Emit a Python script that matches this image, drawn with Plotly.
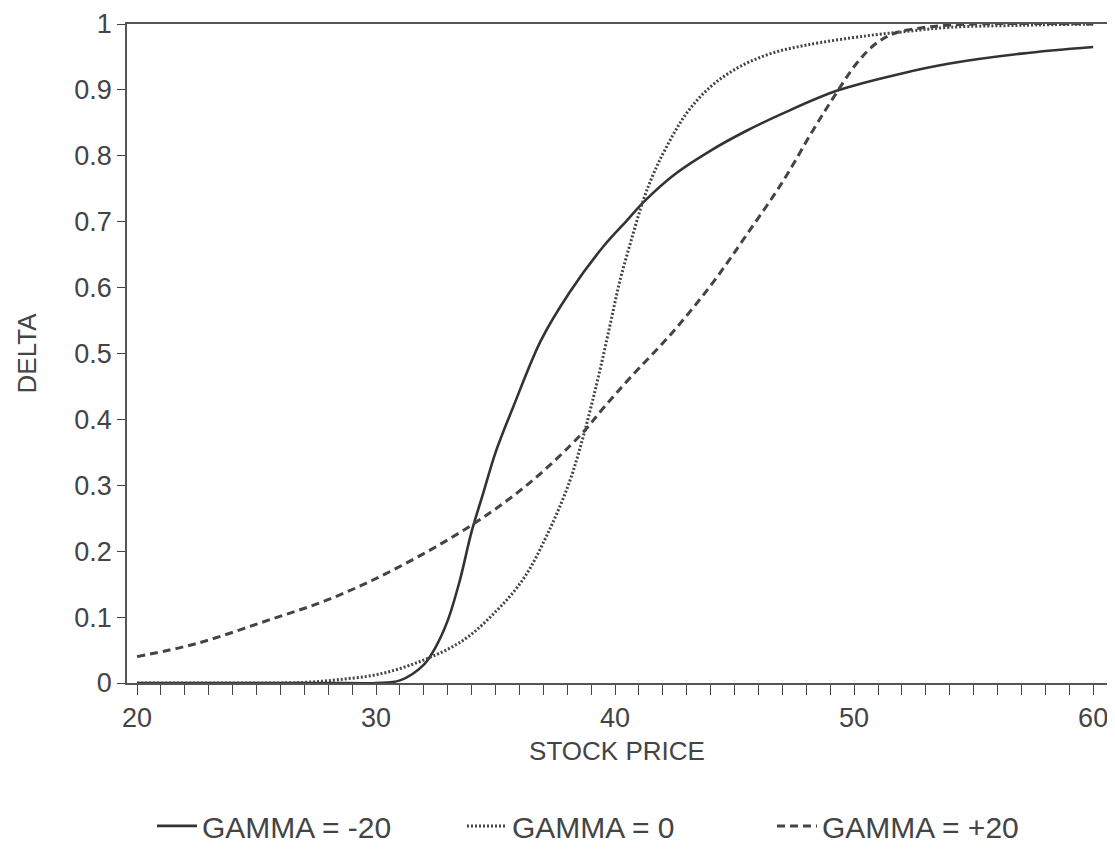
import plotly.graph_objects as go

# stock price (x) and delta (y)
price_neg20 = [20, 22, 24, 26, 28, 30, 31, 32, 32.5, 33, 33.5, 34, 34.5, 35, 35.75,
               36.9, 38.1, 39.5, 40.5, 41.2, 42.5, 44.0, 45.5, 47.0, 49.3, 52, 54, 57, 60]
delta_neg20 = [0, 0, 0, 0, 0, 0, 0.004, 0.028, 0.055, 0.095, 0.155, 0.23, 0.29, 0.35, 0.42,
               0.52, 0.593, 0.662, 0.702, 0.73, 0.772, 0.808, 0.838, 0.864, 0.899, 0.925, 0.94, 0.955, 0.965]

price_zero = [20, 24, 27, 28.4, 30.2, 32, 33.65, 35.05, 36.2, 37.3, 38.1, 38.6, 39.0, 39.4,
              39.8, 40.2, 40.7, 41.2, 41.6, 42.1, 43.0, 44.0, 45.2, 46.5, 48, 50.5, 52, 54, 57, 60]
delta_zero = [0, 0, 0.001, 0.005, 0.014, 0.035, 0.065, 0.11, 0.16, 0.236, 0.306, 0.365, 0.42, 0.48,
              0.545, 0.61, 0.675, 0.735, 0.772, 0.81, 0.865, 0.905, 0.935, 0.955, 0.968, 0.982, 0.988,
              0.995, 0.998, 1.0]

price_pos20 = [20, 22.5, 25.3, 28.1, 30.9, 34.1, 36.5, 38.6, 39.5, 40.6, 42.4, 44.1, 45.5,
               47.0, 48.3, 49.2, 50.1, 50.9, 51.7, 53.0, 55, 60]
delta_pos20 = [0.04, 0.06, 0.093, 0.128, 0.175, 0.242, 0.306, 0.378, 0.417, 0.462, 0.532, 0.608, 0.68,
               0.76, 0.84, 0.892, 0.94, 0.97, 0.986, 0.995, 1.0, 1.0]

x_ticks = [20, 30, 40, 50, 60]
y_ticks = [0, 0.1, 0.2, 0.3, 0.4, 0.5, 0.6, 0.7, 0.8, 0.9, 1]
y_labels = ["0", "0.1", "0.2", "0.3", "0.4", "0.5", "0.6", "0.7", "0.8", "0.9", "1"]

FONT = "Liberation Sans, Arial, sans-serif"
INK = "#444444"

fig = go.Figure()

fig.add_trace(go.Scatter(
    x=price_neg20, y=delta_neg20, mode="lines", name="GAMMA = -20",
    line={"color": "#333333", "width": 2.6, "shape": "spline", "smoothing": 1.0},
))
fig.add_trace(go.Scatter(
    x=price_zero, y=delta_zero, mode="lines", name="GAMMA = 0",
    line={"color": "#444444", "width": 3, "dash": "2px,2px", "shape": "spline", "smoothing": 1.0},
))
fig.add_trace(go.Scatter(
    x=price_pos20, y=delta_pos20, mode="lines", name="GAMMA = +20",
    line={"color": "#444444", "width": 3, "dash": "8px,5px", "shape": "spline", "smoothing": 1.0},
))

fig.update_xaxes(
    range=[19.58, 60.58],
    tickvals=x_ticks,
    ticks="outside", ticklen=10, tickwidth=1.2, tickcolor=INK,
    minor={"dtick": 1, "tick0": 20, "ticks": "outside", "ticklen": 10, "tickcolor": INK, "tickwidth": 1.2},
    showline=True, linecolor="#555555", linewidth=1.5, mirror=True,
    showgrid=False, zeroline=False, automargin=False, ticklabeloverflow="allow",
    tickfont={"family": FONT, "size": 27, "color": INK},
    title={"text": "STOCK PRICE", "font": {"family": FONT, "size": 26, "color": INK}, "standoff": 10},
)
fig.update_yaxes(
    range=[0, 1],
    tickvals=y_ticks, ticktext=y_labels,
    ticks="outside", ticklen=8, tickwidth=1.2, tickcolor=INK,
    showline=True, linecolor="#555555", linewidth=1.5, mirror=True,
    showgrid=False, zeroline=False, automargin=False, ticklabeloverflow="allow",
    tickfont={"family": FONT, "size": 27, "color": INK},
    title={"text": "DELTA", "font": {"family": FONT, "size": 26, "color": INK}, "standoff": 30},
)

# the page body keeps its 8px margin, so the figure is sized to fit inside it
fig.update_layout(
    width=1107, height=838,
    margin={"l": 119, "r": 8, "t": 16, "b": 163},
    plot_bgcolor="white", paper_bgcolor="white",
    font={"family": FONT, "color": INK},
    legend={
        "orientation": "h", "x": 0.5, "xanchor": "center",
        "yref": "container", "y": 0.024, "yanchor": "middle",
        "font": {"family": FONT, "size": 30, "color": INK},
        "itemwidth": 40, "entrywidth": 255,
    },
)

fig.write_html("out.html")
